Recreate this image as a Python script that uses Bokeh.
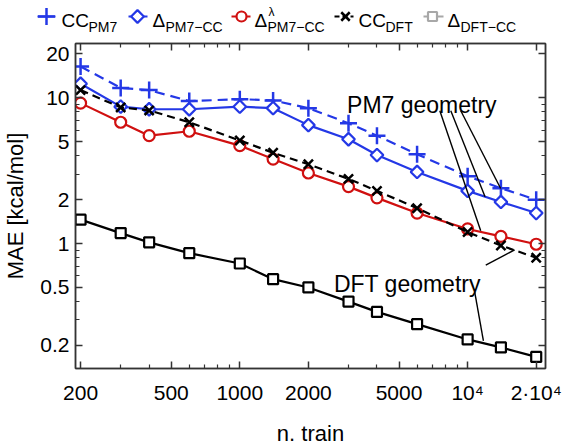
from bokeh.plotting import figure
from bokeh.models import (Range1d, LogAxis, FixedTicker, CustomJSTickFormatter, Label)
from bokeh.layouts import column, row
from bokeh.embed import file_html
from bokeh.resources import INLINE
from bokeh.core.properties import value

# ---------------- data ----------------
n_train = [200, 300, 400, 600, 1000, 1400, 2000, 3000, 4000, 6000, 10000, 14000, 20000]
cc_pm7 = [16.4, 11.7, 11.3, 9.5, 9.8, 9.6, 8.5, 6.7, 5.5, 4.1, 2.9, 2.4, 2.0]
d_pm7_cc = [12.5, 8.7, 8.35, 8.35, 8.7, 8.5, 6.5, 5.2, 4.05, 3.1, 2.3, 1.93, 1.62]
d_lambda_pm7_cc = [9.2, 6.8, 5.5, 5.9, 4.7, 3.8, 3.05, 2.46, 2.06, 1.62, 1.26, 1.12, 0.99]
cc_dft = [11.3, 8.6, 8.2, 6.8, 5.1, 4.2, 3.5, 2.78, 2.3, 1.75, 1.2, 0.97, 0.80]
d_dft_cc = [1.46, 1.18, 1.02, 0.86, 0.73, 0.57, 0.50, 0.40, 0.34, 0.28, 0.22, 0.194, 0.167]

x_ticks = [200, 500, 1000, 2000, 5000, 10000, 20000]
x_minor = [300, 400, 600, 700, 800, 900, 3000, 4000, 6000, 7000, 8000, 9000]
y_ticks = [0.2, 0.5, 1, 2, 5, 10, 20]
y_minor = [0.3, 0.4, 0.6, 0.7, 0.8, 0.9, 3, 4, 6, 7, 8, 9]

# annotation texts / pointer lines (data coordinates)
pm7_label = "PM7 geometry"
pm7_label_pos = (6295, 8.96)
pm7_x0 = [7550, 8435, 9330]
pm7_y0 = [8.15, 8.15, 8.15]
pm7_x1 = [11415, 11925, 13965]
pm7_y1 = [1.226, 2.10, 2.39]
dft_label = "DFT geometry"
dft_label_pos = (5440, 0.527)
dft_x0 = [12010, 10745]
dft_y0 = [0.711, 0.465]
dft_x1 = [16085, 11730]
dft_y1 = [0.906, 0.215]

# legend texts
leg_main = ["CC", "\u0394", "\u0394", "CC", "\u0394"]
leg_sub = ["PM7", "PM7\u2212CC", "PM7\u2212CC", "DFT", "DFT\u2212CC"]

BLUE = "#2438e6"
RED = "#d01010"
BLACK = "#000000"
GREY = "#a8a8a8"
FONT = "Liberation Sans"

# ---------------- main figure ----------------
p = figure(width=566, height=414, x_axis_type="log", y_axis_type="log",
           x_range=Range1d(190, 21970), y_range=Range1d(0.139, 23.6),
           output_backend="svg", toolbar_location=None,
           min_border_left=74, min_border_right=21, min_border_top=9, min_border_bottom=66)
p.grid.visible = False
p.outline_line_color = "#444444"
p.outline_line_width = 1.5

xt = FixedTicker(ticks=x_ticks, minor_ticks=x_minor)
yt = FixedTicker(ticks=y_ticks, minor_ticks=y_minor)

xfmt = CustomJSTickFormatter(code="""
if (tick == 10000) return '10\u2074';
if (tick == 20000) return '2\u00b710\u2074';
return String(tick);
""")
yfmt = CustomJSTickFormatter(code="return String(tick);")
blank = CustomJSTickFormatter(code="return '';")

def style_axis(ax):
    ax.major_tick_in = 7
    ax.major_tick_out = 0
    ax.minor_tick_in = 4
    ax.minor_tick_out = 0
    ax.axis_line_color = "#333333"
    ax.axis_line_width = 1.5
    ax.major_tick_line_color = "#333333"
    ax.major_tick_line_width = 1.5
    ax.minor_tick_line_color = "#333333"
    ax.minor_tick_line_width = 1.2
    ax.major_label_text_font = FONT
    ax.major_label_text_font_size = "21px"
    ax.major_label_text_color = "black"
    ax.axis_label_text_font = FONT
    ax.axis_label_text_font_size = "22px"
    ax.axis_label_text_font_style = "normal"
    ax.axis_label_text_color = "black"

xa = p.xaxis[0]
ya = p.yaxis[0]
xa.ticker = xt
ya.ticker = yt
xa.formatter = xfmt
ya.formatter = yfmt
style_axis(xa)
style_axis(ya)
xa.axis_label = "n. train"
ya.axis_label = "MAE [kcal/mol]"
xa.major_label_standoff = 12
xa.axis_label_standoff = 14
ya.major_label_standoff = 6
ya.axis_label_standoff = 9

top = LogAxis(ticker=xt, formatter=blank)
right = LogAxis(ticker=yt, formatter=blank)
for ax in (top, right):
    style_axis(ax)
    ax.major_label_text_font_size = "1px"
    ax.major_label_standoff = 0
p.add_layout(top, "above")
p.add_layout(right, "right")

# series
p.line(n_train, cc_pm7, line_color=BLUE, line_width=2.2, line_dash="10 6")
p.scatter(n_train, cc_pm7, marker="cross", size=17, line_color=BLUE, line_width=2.5)

p.line(n_train, d_pm7_cc, line_color=BLUE, line_width=2.2)
p.scatter(n_train, d_pm7_cc, marker="square", angle=0.785398, size=9, line_color=BLUE,
          fill_color="white", line_width=2.2)

p.line(n_train, d_lambda_pm7_cc, line_color=RED, line_width=2.2)
p.scatter(n_train, d_lambda_pm7_cc, marker="circle", size=11, line_color=RED,
          fill_color="white", line_width=2.2)

p.line(n_train, cc_dft, line_color=BLACK, line_width=2.2, line_dash="8 5")
p.scatter(n_train, cc_dft, marker="x", size=13, line_color=BLACK, line_width=2.5)

p.line(n_train, d_dft_cc, line_color=BLACK, line_width=2.2)
p.scatter(n_train, d_dft_cc, marker="square", size=10, line_color=BLACK,
          fill_color="white", line_width=2.2)

# annotations
p.segment(pm7_x0, pm7_y0, pm7_x1, pm7_y1, line_color="black", line_width=1.4)
p.segment(dft_x0, dft_y0, dft_x1, dft_y1, line_color="black", line_width=1.4)
p.add_layout(Label(x=pm7_label_pos[0], y=pm7_label_pos[1], text=pm7_label,
                   text_font=FONT, text_font_size="23px", text_align="center",
                   text_baseline="alphabetic", text_color="black"))
p.add_layout(Label(x=dft_label_pos[0], y=dft_label_pos[1], text=dft_label,
                   text_font=FONT, text_font_size="23px", text_align="center",
                   text_baseline="alphabetic", text_color="black"))

# ---------------- legend figure ----------------
leg_colors = [BLUE, BLUE, RED, BLACK, GREY]
L = figure(width=566, height=34, x_range=Range1d(0, 566), y_range=Range1d(0, 34),
           output_backend="svg", toolbar_location=None,
           min_border_left=0, min_border_right=0, min_border_top=0, min_border_bottom=0)
L.axis.visible = False
L.grid.visible = False
L.outline_line_color = None

gy = 18
line_x0 = [37, 128, 231, 334, 423]
line_x1 = [55, 147, 250, 353, 443]
mark_x = [46, 137, 241, 345, 432]
text_x = [61, 152, 254, 358, 447]
sub_x = [88, 165, 267, 385, 460]
dashes = ["solid", "solid", "solid", "5 3", "solid"]

for i in range(5):
    L.line([line_x0[i], line_x1[i]], [gy, gy], line_color=leg_colors[i], line_width=2.2,
           line_dash=dashes[i])
L.scatter([mark_x[0]], [gy], marker="cross", size=17, line_color=BLUE, line_width=2.5)
L.scatter([mark_x[1]], [gy], marker="square", angle=0.785398, size=9, line_color=BLUE,
          fill_color="white", line_width=2.2)
L.scatter([mark_x[2]], [gy], marker="circle", size=10, line_color=RED, fill_color="white",
          line_width=2.2)
L.scatter([mark_x[3]], [gy], marker="x", size=12, line_color=BLACK, line_width=2.5)
L.scatter([mark_x[4]], [gy], marker="square", size=9, line_color=GREY, fill_color="white",
          line_width=2.2)

L.text(x=text_x, y=[13.7] * 5, text=leg_main, text_font=value(FONT), text_font_size="19px",
       text_baseline="alphabetic", text_color="black")
L.text(x=sub_x, y=[8] * 5, text=leg_sub, text_font=value(FONT), text_font_size="14px",
       text_baseline="alphabetic", text_color="black")
L.text(x=[sub_x[2] + 1], y=[22.5], text=["\u03bb"], text_font=value(FONT), text_font_size="12px",
       text_baseline="alphabetic", text_color="black")

layout = column(row(L), p, spacing=0)
open("out.html", "w").write(file_html(layout, INLINE))
